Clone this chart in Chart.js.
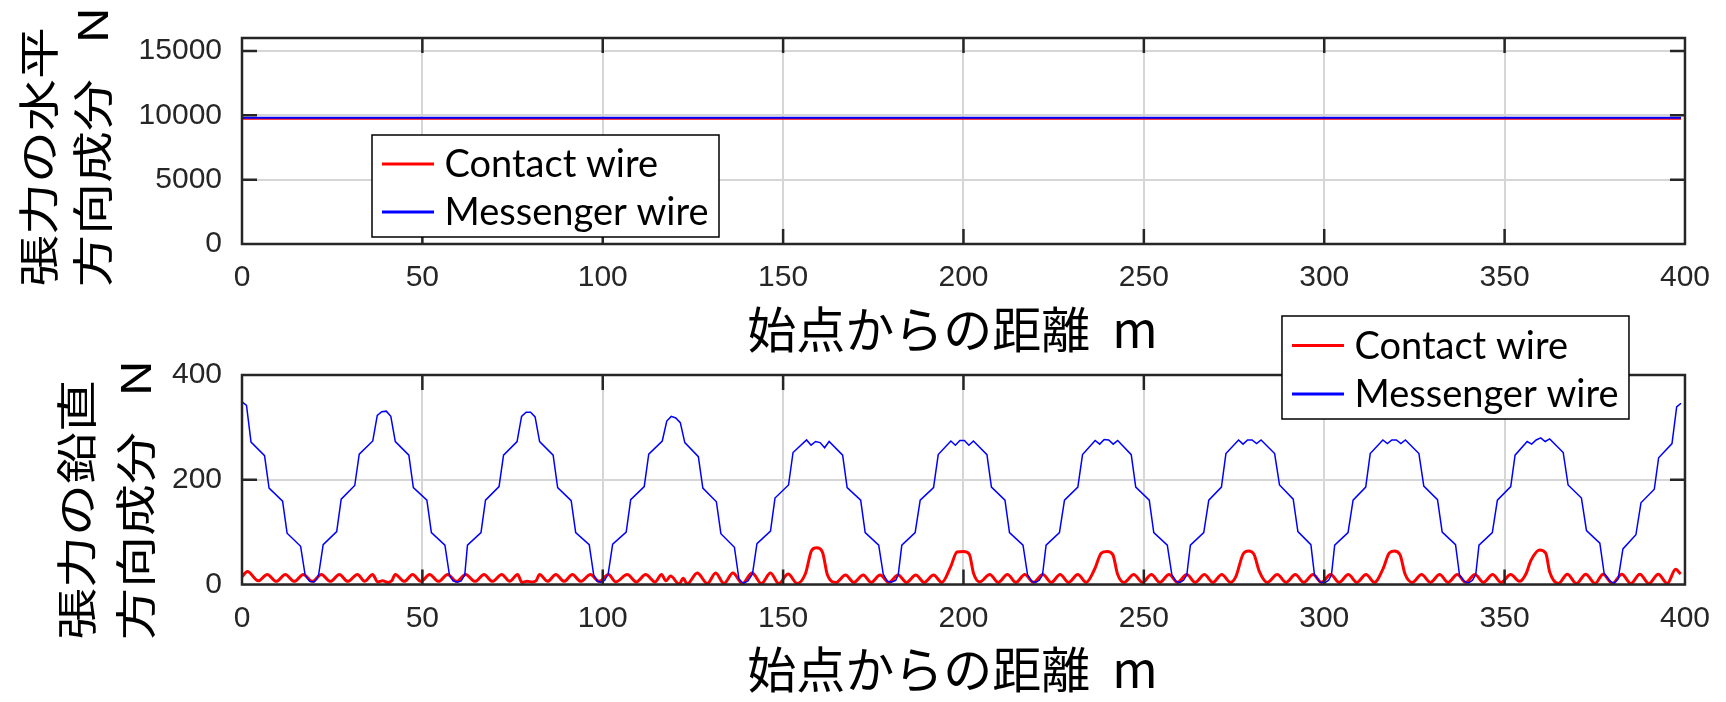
<!DOCTYPE html>
<html><head><meta charset="utf-8">
<script src="https://cdn.jsdelivr.net/npm/chart.js@4.4.1/dist/chart.umd.min.js"></script>
<style>
html,body{margin:0;padding:0;background:#fff;}
#wrap{position:relative;width:1726px;height:702px;overflow:hidden;}
canvas{position:absolute;left:0;top:0;}
</style></head><body>
<div id="wrap"><canvas id="c1" width="1726" height="702"></canvas><canvas id="c2" width="1726" height="702"></canvas></div>
<script>
// ---- data ----
const xTickValues = [0, 50, 100, 150, 200, 250, 300, 350, 400];
const topYTickValues = [0, 5000, 10000, 15000];
const bottomYTickValues = [0, 200, 400];
const seriesLabels = ['Contact wire', 'Messenger wire'];

// horizontal tension component (N)
const horizontalX = [0, 398.9];
const contactHorizontal = [9720, 9720];
const messengerHorizontal = [9800, 9800];

// vertical tension component (N): [distance m, value N]
const contactVertical = [
[0,15],[1.5,25],[4.5,7],[7,19],[9.5,6],[12,19],[14.5,6],[17,19],[19.5,6],[22,19],[24.5,6],[27,19],[29.3,6],[32,19],[34,6],[36.2,19],[37.6,5],[39,7],[40.5,4],[41.5,7],
[42.5,19],[45,6],[47.3,19],[49.6,6],[52,19],[54.5,6],[57,19],[59.5,6],[62,19],[64.6,6],[67.1,19],[69.4,6],[72,19],[74.2,6],[76.4,19],[77.6,4],[79,6],[80.5,5],[81.5,7],
[82.5,19],[84.7,6],[87,19],[89.3,6],[91.6,19],[93.9,6],[96.6,19],[99,6],[101.6,19],[103.6,5],[106.8,19],[109.3,5],[111.9,19],[114.5,5],[116.3,19],[117.5,7],[118.8,16],[121.2,1],[122.3,12],[123.4,1],
[126.2,22],[129,2],[131.3,22],[133.6,2],[136.1,22],[138.7,2],[141.4,22],[144,2],[146.5,22],[148.8,2],[151.4,20],[153.9,2],[156.2,21],[157.9,65],[159.3,70],[160.9,62],[162.3,18],
[164.7,4],[167.3,18],[169.6,4],[172.2,18],[174.4,4],[176.9,18],[179.3,4],[181.9,18],[184.2,4],[186.8,18],[189.1,4],[191.7,18],[194,4],[196.4,33],[198.2,62],[200,63],[201.6,58],[202.8,21],
[204.5,5],[207.3,19],[209.6,4],[212.2,19],[214.5,4],[217,19],[219.4,4],[222,19],[224.3,4],[226.8,19],[229.1,4],[231.7,19],[234,4],[236.4,30],[238.2,60],[239.8,63],[241.4,57],[242.7,20],
[244.5,4],[247.2,19],[249.6,4],[252.1,19],[254.4,4],[257,19],[259.3,4],[261.9,19],[264.2,4],[266.8,19],[269.1,4],[271.6,19],[274,4],[275.5,15],[277.5,58],[279,64],[280.5,58],[282,25],
[284.2,4],[287,19],[289.4,4],[292,19],[294.3,4],[296.9,19],[299.2,4],[301.8,19],[304.1,4],[306.7,19],[309,4],[311.6,19],[313.9,4],[316.3,30],[318,60],[319.4,64],[321,57],[322.4,20],
[324.4,4],[327,19],[329.4,4],[332,19],[334.3,4],[336.9,19],[339.2,4],[341.8,19],[344.1,4],[346.7,19],[349,4],[351.7,19],[354.2,6],[355.9,20],[357.3,46],[359.7,66],[361.4,60],[362.5,24],
[364.9,2],[367.4,19.6],[369.9,2],[372.5,19.6],[375.1,2],[377.3,19.6],[379.9,2],[382.5,19.6],[385,2],[387.5,19.6],[390,2],[392.6,19.6],[395.1,2],[397.4,29],[398.8,20]
];
const messengerVertical = [
[0,349],[1.25,342],[2.5,272],[6.25,246],[7.5,184],[11.25,159],[12.5,98],[16.25,73],[17.5,18],[18.75,6],[20,5],[20.75,11],[21.25,19],[22.5,76],[26.25,101],[27.5,163],[31.25,189],[32.5,249],[36.25,274],[37.5,323],[38.75,330],[40,331],[41.25,321],[42.5,273],[46.25,247],[47.5,185],[51.25,161],[52.5,99],[56.25,75],[57.5,18],[58.5,7],[59.75,4.5],[60.75,7],[61.75,18],[62.5,75],[66.25,99],[67.5,161],[71.25,187],[72.5,247],[76.25,273],[77.5,321],[78.75,329],[80,329],[81.25,320],[82.5,273],[86.25,247],[87.5,185],[91.25,160],[92.5,99],[96.25,76],[97.5,18],[98.5,6],[99.5,4.5],[100.5,8],[101.5,20],[102.75,77],[106.5,100],[107.75,162],[111.5,187],[112.75,249],[116.5,274],[117.75,312],[119,321],[120.25,318],[121.5,309],[122.75,271],[126.5,244],[127.75,184],[131.5,158],[132.75,97],[136.5,71],[137.75,11],[138.9,2],[140.25,7],[141.5,20],[142.75,78],[146.5,102],[147.75,165],[151.5,190],[152.75,252],[156.5,276],[157.75,266],[159,273],[160.25,271],[161.5,261],[162.75,273],[166.5,247],[167.75,185],[171.5,161],[172.75,99],[176.5,75],[177.75,20],[178.9,6],[180,4.5],[181.2,8],[181.9,18],[182.9,75],[186.6,99],[188,161],[191.7,185],[193,248],[196.5,274],[197.75,266],[199,275],[200.25,275],[201.5,266],[202.75,274],[206.5,248],[207.75,186],[211.5,161],[212.75,99],[216.5,75],[217.75,19],[218.9,6],[220,4],[221,8],[221.9,18],[222.9,75],[226.6,99],[228,161],[231.7,186],[233,248],[236.5,275],[237.75,268],[239,277],[240.25,276],[241.5,268],[242.75,275],[246.5,248],[247.75,186],[251.5,161],[252.75,99],[256.5,75],[257.75,19],[258.9,6],[260,4],[261,8],[261.9,18],[262.9,75],[266.6,99],[268,161],[271.5,186],[272.75,250],[276.25,276],[277.5,268],[278.75,276],[280,276],[281.25,269],[282.5,276],[286.25,250],[287.6,190],[291.4,163],[292.7,101],[296.3,76],[297.3,18],[298.8,5],[300.2,3.5],[301.2,8],[302,18],[302.9,75],[306.6,99],[308,161],[311.5,186],[312.75,250],[316.25,276],[317.5,269],[318.75,276],[320,276],[321.25,269],[322.5,276],[326.25,250],[327.6,188],[331.4,162],[332.7,100],[336.4,76],[337.5,18],[338.8,6],[340,3],[341.1,8],[342,19],[342.9,75],[346.6,99],[348,161],[351.7,187],[352.9,247],[356.25,273],[357.5,268],[358.75,276],[360,280],[361.25,273],[362.5,278],[366.25,252],[367.6,190],[371.3,165],[372.7,103],[376.4,79],[377.6,21],[379,8],[380.2,2],[381.5,11],[382.8,68],[386.4,95],[387.8,156],[391.5,182],[392.7,242],[396.4,269],[397.7,339],[398.9,346]
];

// ---- plugins ----
const framePlugin = {
  id: 'frame',
  afterDatasetsDraw(chart, args, o) {
    const {ctx, chartArea: a} = chart;
    const x = chart.scales.x, y = chart.scales.y;
    ctx.save();
    ctx.strokeStyle = o.color; ctx.lineWidth = o.width; ctx.lineCap = 'butt';
    ctx.beginPath();
    x.ticks.forEach(t => {
      const px = x.getPixelForValue(t.value);
      if (px <= a.left + 1 || px >= a.right - 1) return;
      ctx.moveTo(px, a.bottom); ctx.lineTo(px, a.bottom - o.len);
      ctx.moveTo(px, a.top); ctx.lineTo(px, a.top + o.len);
    });
    y.ticks.forEach(t => {
      const py = y.getPixelForValue(t.value);
      if (py <= a.top + 1 || py >= a.bottom - 1) return;
      ctx.moveTo(a.left, py); ctx.lineTo(a.left + o.len, py);
      ctx.moveTo(a.right, py); ctx.lineTo(a.right - o.len, py);
    });
    ctx.stroke();
    ctx.strokeRect(a.left, a.top, a.right - a.left, a.bottom - a.top);
    ctx.restore();
  }
};
const boxLegendPlugin = {
  id: 'boxLegend',
  afterDraw(chart, args, o) {
    const {ctx, chartArea: a} = chart;
    const x0 = (o.anchor === 'right' ? a.right : a.left) + o.dx;
    const y0 = a.top + o.dy;
    ctx.save();
    ctx.fillStyle = '#fff';
    ctx.fillRect(x0, y0, o.w, o.h);
    ctx.strokeStyle = '#000'; ctx.lineWidth = 1.5;
    ctx.strokeRect(x0, y0, o.w, o.h);
    ctx.font = o.font;
    ctx.textBaseline = 'alphabetic'; ctx.textAlign = 'left';
    chart.data.datasets.forEach((ds, i) => {
      const yy = y0 + o.row0 + i * o.rowGap;
      ctx.strokeStyle = ds.borderColor; ctx.lineWidth = 3;
      ctx.beginPath(); ctx.moveTo(x0 + 10, yy); ctx.lineTo(x0 + 62, yy); ctx.stroke();
      ctx.fillStyle = '#000';
      ctx.fillText(ds.label, x0 + 72.5, yy + o.baseOff);
    });
    ctx.restore();
  }
};
const yTitlePlugin = {
  id: 'yTitle',
  afterDraw(chart, args, o) {
    const ctx = chart.ctx;
    ctx.save();
    ctx.font = o.size + 'px "Noto Sans CJK JP"';
    ctx.fillStyle = '#000';
    ctx.textBaseline = 'middle'; ctx.textAlign = 'left';
    o.lines.forEach((line, i) => {
      ctx.save();
      ctx.translate(o.x[i], o.yStart);
      ctx.rotate(-Math.PI / 2);
      ctx.scale(1, o.squash);
      ctx.fillText(line, 0, 0);
      ctx.restore();
    });
    ctx.restore();
  }
};

const tickFont = {family: '"Liberation Sans"', size: 30};
const gridStyle = {color: '#d6d6d6', lineWidth: 2, drawTicks: false};

function xScale(height) {
  return {
    type: 'linear', min: 0, max: 400,
    afterBuildTicks: s => { s.ticks = xTickValues.map(v => ({value: v})); },
    ticks: {autoSkip: false, maxRotation: 0, padding: 16, color: '#262626', font: tickFont},
    grid: gridStyle,
    border: {display: false},
    title: {display: true, text: '始点からの距離  m  ', color: '#000',
            font: {family: '"Noto Sans CJK JP"', size: 49, lineHeight: 1}, padding: {top: 0, bottom: 8}},
    afterFit: s => { s.height = height; }
  };
}
function yScale(max, tickValues) {
  return {
    type: 'linear', min: 0, max: max,
    afterBuildTicks: s => { s.ticks = tickValues.map(v => ({value: v})); },
    ticks: {padding: 20, color: '#262626', font: tickFont, callback: v => String(v)},
    grid: gridStyle,
    border: {display: false},
    afterFit: s => { s.width = 242; }
  };
}
const toXY = arr => arr.map(p => ({x: p[0], y: p[1]}));

new Chart(document.getElementById('c1'), {
  type: 'line',
  data: {datasets: [
    {label: seriesLabels[0], data: horizontalX.map((x, i) => ({x, y: contactHorizontal[i]})), borderColor: '#ff0000', borderWidth: 2, pointRadius: 0, order: 1},
    {label: seriesLabels[1], data: horizontalX.map((x, i) => ({x, y: messengerHorizontal[i]})), borderColor: '#0000ff', borderWidth: 2, pointRadius: 0, order: 0}
  ]},
  options: {
    responsive: false, animation: false, devicePixelRatio: 1,
    layout: {padding: {top: 36, right: 40, bottom: 340, left: 0}},
    scales: {x: xScale(118), y: yScale(16000, topYTickValues)},
    plugins: {
      legend: {display: false}, tooltip: {enabled: false},
      frame: {color: '#262626', width: 2.5, len: 15},
      boxLegend: {anchor: 'left', dx: 130, dy: 97, w: 347, h: 102, row0: 29, rowGap: 48, font: '38px Lato', baseOff: 13},
      yTitle: {lines: ['張力の水平', '方向成分   N'], x: [39, 93], yStart: 287, size: 52, squash: 0.78}
    }
  },
  plugins: [framePlugin, boxLegendPlugin, yTitlePlugin]
});

new Chart(document.getElementById('c2'), {
  type: 'line',
  data: {datasets: [
    {label: seriesLabels[0], data: toXY(contactVertical), borderColor: '#ff0000', borderWidth: 3, pointRadius: 0, cubicInterpolationMode: 'monotone', order: 1},
    {label: seriesLabels[1], data: toXY(messengerVertical), borderColor: '#0000ff', borderWidth: 1.5, pointRadius: 0, order: 0}
  ]},
  options: {
    responsive: false, animation: false, devicePixelRatio: 1,
    layout: {padding: {top: 375, right: 40, bottom: 0, left: 0}},
    scales: {x: xScale(117.5), y: yScale(400, bottomYTickValues)},
    plugins: {
      legend: {display: false}, tooltip: {enabled: false},
      frame: {color: '#262626', width: 2.5, len: 15},
      boxLegend: {anchor: 'right', dx: -403, dy: -59, w: 347, h: 103, row0: 29.5, rowGap: 48.5, font: '38px Lato', baseOff: 13},
      yTitle: {lines: ['張力の鉛直', '方向成分   N'], x: [77, 136], yStart: 640, size: 52, squash: 0.78}
    }
  },
  plugins: [framePlugin, boxLegendPlugin, yTitlePlugin]
});
</script>
</body></html>
